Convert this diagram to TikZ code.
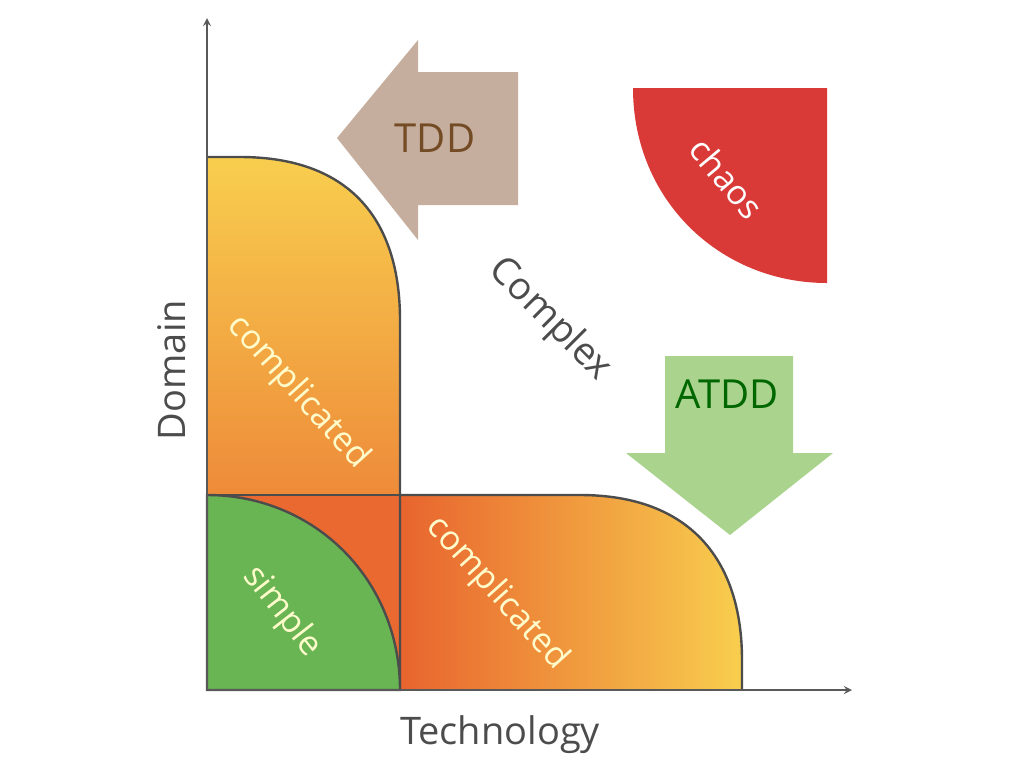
\documentclass[tikz,border=0pt]{standalone}
\usepackage{fontspec}
\setmainfont{Open Sans}
\definecolor{ylw}{HTML}{F8CE4E}
\definecolor{org}{HTML}{E8642E}
\definecolor{chaosc}{HTML}{D93A38}
\definecolor{tddc}{HTML}{C6AE9E}
\definecolor{atddc}{HTML}{AAD48E}
\definecolor{simc}{HTML}{6AB553}
\begin{document}
\begin{tikzpicture}[x=0.5pt,y=-0.5pt,
  outl/.style={draw=black!70,line width=1.2pt},
  lbl/.style={font=\fontsize{17}{17}\selectfont,text=yellow!20},
  ax/.style={draw=black!65,line width=0.8pt,-stealth}]
\useasboundingbox (0,0) rectangle (1024,768);
\shade[top color=ylw,bottom color=org] (207,690) -- (207,157) -- (240,157) .. controls (350,157) and (400,220) .. (400,320) -- (400,690) -- cycle;
\shade[left color=org,right color=ylw] (400,690) -- (400,495) -- (580,495) .. controls (690,495) and (742,560) .. (742,660) -- (742,690) -- cycle;
\fill[org!95!ylw] (207,495) rectangle (400,690);
\draw[outl] (207,157) -- (240,157) .. controls (350,157) and (400,220) .. (400,320) -- (400,690);
\draw[outl] (400,495) -- (580,495) .. controls (690,495) and (742,560) .. (742,660) -- (742,690);
\draw[outl] (207,495) -- (400,495);
\fill[simc,draw=black!70,line width=1.2pt] (207,495) .. controls (315,495) and (400,580) .. (400,690) -- (207,690) -- cycle;
\coordinate (o) at (207,690);
\coordinate (yt) at (207,18);
\coordinate (xt) at (852,690);
\draw[ax] (o) -- (yt);
\draw[ax] (o) -- (xt);
\fill[chaosc] (633,88) -- (827,88) -- (827,283) .. controls (720,283) and (633,200) .. (633,88);
\fill[tddc] (337,138) -- (418,40) -- (418,72) -- (518,72) -- (518,205) -- (418,205) -- (418,240) -- cycle;
\node[font=\fontsize{20}{20}\selectfont,text=brown!60!black] (tdd) at (435,138) {TDD};
\fill[atddc] (665,356) -- (793,356) -- (793,453) -- (833,453) -- (730,535) -- (626,453) -- (665,453) -- cycle;
\node[font=\fontsize{20}{20}\selectfont,text=green!40!black] (atdd) at (727,394) {ATDD};
\node[font=\fontsize{19}{19}\selectfont,text=black!70,rotate=-45] (cx) at (550,320) {Complex};
\node[font=\fontsize{19}{19}\selectfont,text=black!70,rotate=90] (dom) at (172,370) {Domain};
\node[font=\fontsize{19}{19}\selectfont,text=black!70] (tech) at (500,735) {Technology};
\node[lbl,rotate=-48] (c1) at (298,392) {complicated};
\node[lbl,rotate=-48] (c2) at (497,593) {complicated};
\node[lbl,rotate=-52] (s) at (282,612) {simple};
\node[lbl,text=white,rotate=-50] (ch) at (727,178) {chaos};
\end{tikzpicture}
\end{document}
